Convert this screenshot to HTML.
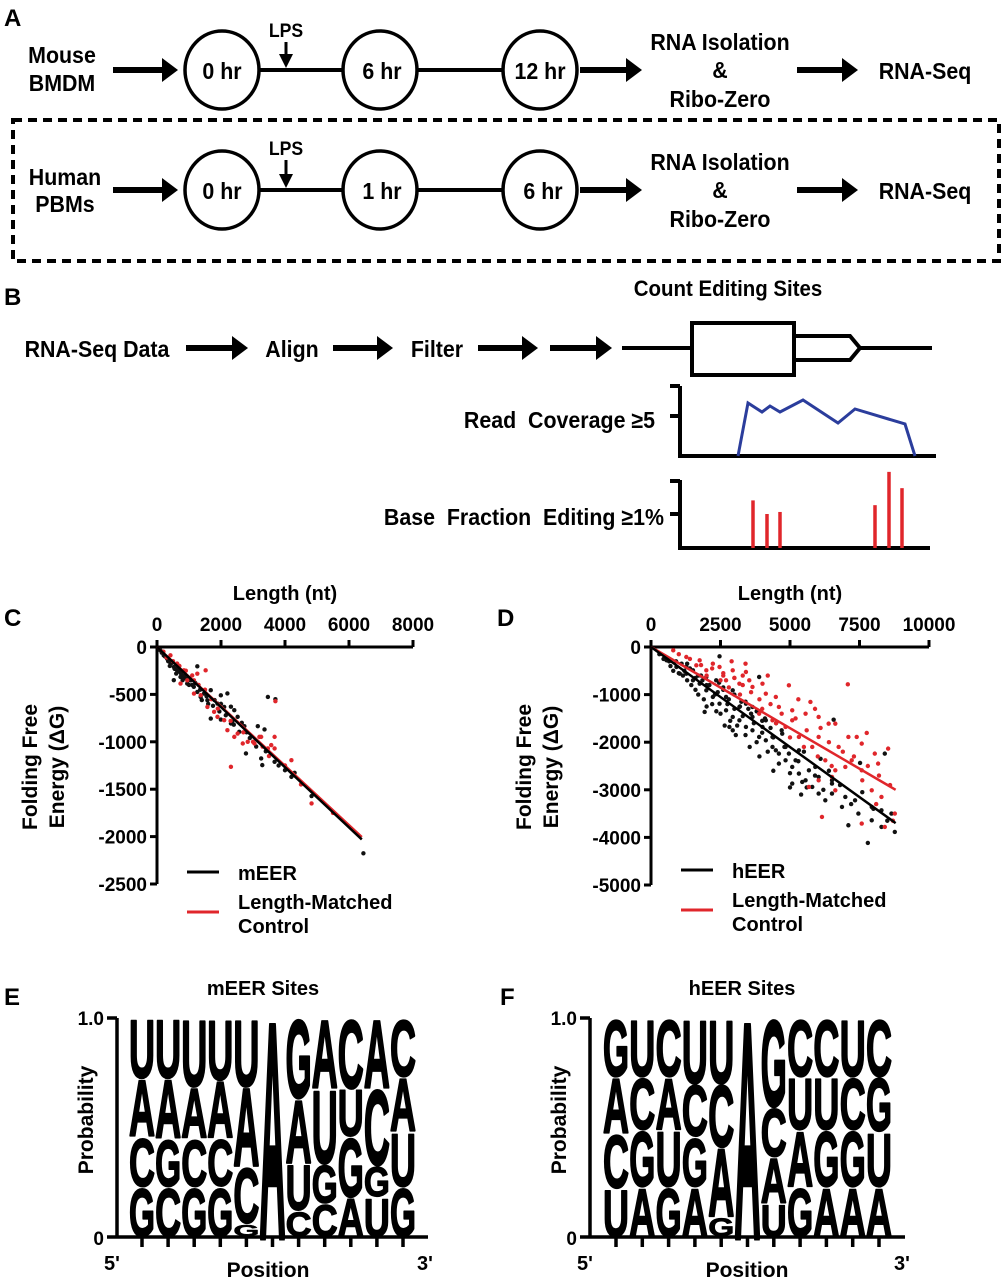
<!DOCTYPE html>
<html><head><meta charset="utf-8"><style>
body{margin:0;background:#fff}
svg text{font-family:"Liberation Sans",sans-serif;font-weight:bold}
</style></head><body>
<svg id="fig" width="1008" height="1280" viewBox="0 0 1008 1280" xmlns="http://www.w3.org/2000/svg">
<g>
<text x="4" y="26" font-size="24">A</text>
<text class="n" x="62" y="63" text-anchor="middle" font-size="23">Mouse</text>
<text class="n" x="62" y="91" text-anchor="middle" font-size="23">BMDM</text>
<text class="n" x="286" y="37" text-anchor="middle" font-size="19">LPS</text>
<line x1="259" y1="70" x2="505" y2="70" stroke="#000" stroke-width="4"/>
<ellipse cx="222" cy="70" rx="37" ry="39" fill="#fff" stroke="#000" stroke-width="3.5"/>
<ellipse cx="380" cy="70" rx="37" ry="39" fill="#fff" stroke="#000" stroke-width="3.5"/>
<ellipse cx="540" cy="70" rx="37" ry="39" fill="#fff" stroke="#000" stroke-width="3.5"/>
<text class="n" x="222" y="79" text-anchor="middle" font-size="23">0 hr</text>
<text class="n" x="382" y="79" text-anchor="middle" font-size="23">6 hr</text>
<text class="n" x="540" y="79" text-anchor="middle" font-size="23">12 hr</text>
<text class="n" x="720" y="50" text-anchor="middle" font-size="23">RNA Isolation</text>
<text class="n" x="720" y="78" text-anchor="middle" font-size="23">&amp;</text>
<text class="n" x="720" y="107" text-anchor="middle" font-size="23">Ribo-Zero</text>
<text class="n" x="925" y="79" text-anchor="middle" font-size="23">RNA-Seq</text>

<rect x="13" y="120" width="986" height="141" fill="none" stroke="#000" stroke-width="4" stroke-dasharray="9,6"/>
<text class="n" x="65" y="185" text-anchor="middle" font-size="23">Human</text>
<text class="n" x="65" y="212" text-anchor="middle" font-size="23">PBMs</text>
<text class="n" x="286" y="155" text-anchor="middle" font-size="19">LPS</text>
<line x1="259" y1="190" x2="505" y2="190" stroke="#000" stroke-width="4"/>
<ellipse cx="222" cy="190" rx="37" ry="39" fill="#fff" stroke="#000" stroke-width="3.5"/>
<ellipse cx="380" cy="190" rx="37" ry="39" fill="#fff" stroke="#000" stroke-width="3.5"/>
<ellipse cx="540" cy="190" rx="37" ry="39" fill="#fff" stroke="#000" stroke-width="3.5"/>
<text class="n" x="222" y="199" text-anchor="middle" font-size="23">0 hr</text>
<text class="n" x="382" y="199" text-anchor="middle" font-size="23">1 hr</text>
<text class="n" x="543" y="199" text-anchor="middle" font-size="23">6 hr</text>
<text class="n" x="720" y="170" text-anchor="middle" font-size="23">RNA Isolation</text>
<text class="n" x="720" y="198" text-anchor="middle" font-size="23">&amp;</text>
<text class="n" x="720" y="227" text-anchor="middle" font-size="23">Ribo-Zero</text>
<text class="n" x="925" y="199" text-anchor="middle" font-size="23">RNA-Seq</text>
</g>
<g id="arrows"></g>

<g>
<text x="4" y="305" font-size="24">B</text>
<text class="n" x="728" y="296" text-anchor="middle" font-size="22">Count Editing Sites</text>
<text class="n" x="97" y="357" text-anchor="middle" font-size="23">RNA-Seq Data</text>
<text class="n" x="292" y="357" text-anchor="middle" font-size="23">Align</text>
<text class="n" x="437" y="357" text-anchor="middle" font-size="23">Filter</text>
<line x1="622" y1="348" x2="932" y2="348" stroke="#000" stroke-width="4"/>
<rect x="692" y="323" width="102" height="52" fill="#fff" stroke="#000" stroke-width="4"/>
<polygon points="794,336 850,336 860,348 850,360 794,360" fill="#fff" stroke="#000" stroke-width="4"/>
<text class="n" x="655" y="428" text-anchor="end" font-size="23">Read&#160; Coverage ≥5</text>
<polyline points="680,386 680,456 936,456" fill="none" stroke="#000" stroke-width="4"/>
<line x1="670" y1="386" x2="680" y2="386" stroke="#000" stroke-width="4"/>
<line x1="670" y1="416" x2="680" y2="416" stroke="#000" stroke-width="4"/>
<polyline points="738,456 748,403 762,412 770,406 780,412 803,400 838,423 855,409 905,424 915,456" fill="none" stroke="#2b3d9c" stroke-width="3"/>
<text class="n" x="664" y="525" text-anchor="end" font-size="23">Base&#160; Fraction&#160; Editing ≥1%</text>
<polyline points="680,480 680,548 930,548" fill="none" stroke="#000" stroke-width="4"/>
<line x1="670" y1="481" x2="680" y2="481" stroke="#000" stroke-width="4"/>
<line x1="670" y1="514" x2="680" y2="514" stroke="#000" stroke-width="4"/>
<g id="editbars"></g>
</g>

<g id="chartC"></g>
<g id="chartD"></g>
<g id="logoE"></g>
<g id="logoF"></g>
</svg>
<script>
const NS="http://www.w3.org/2000/svg";
function mk(parent,tag,attrs,txt){const e=document.createElementNS(NS,tag);for(const k in attrs)e.setAttribute(k,attrs[k]);if(txt!==undefined)e.textContent=txt;parent.appendChild(e);return e;}

document.querySelectorAll('text.n').forEach(t=>{
  const x=+t.getAttribute('x'),y=+t.getAttribute('y');
  t.setAttribute('x',0);t.setAttribute('y',0);
  t.setAttribute('transform',`translate(${x},${y}) scale(0.93,1)`);
});

const arrowSpecs=[[113,178,70],[580,642,70],[797,858,70],[113,178,190],[580,642,190],[797,858,190],[186,248,348],[333,393,348],[478,538,348],[550,612,348]];
const ag=document.getElementById('arrows');
arrowSpecs.forEach((a,i)=>{
  const g=mk(ag,'g',{});
  
  
  mk(g,'line',{x1:a[0],y1:a[2],x2:a[1]-12,y2:a[2],stroke:'#000','stroke-width':6});
  mk(g,'polygon',{points:`${a[1]-16},${a[2]-12} ${a[1]},${a[2]} ${a[1]-16},${a[2]+12}`,fill:'#000'});
});
[[286,42,68],[286,160,188]].forEach(a=>{
  const g=mk(ag,'g',{});
  
  
  mk(g,'line',{x1:a[0],y1:a[1],x2:a[0],y2:a[2]-10,stroke:'#000','stroke-width':3});
  mk(g,'polygon',{points:`${a[0]-7},${a[2]-14} ${a[0]},${a[2]} ${a[0]+7},${a[2]-14}`,fill:'#000'});
});

const editPos=[753,767,780,875,889,902];
const editVal=[0.70,0.50,0.53,0.63,1.12,0.88];
const eb=document.getElementById('editbars');
editVal.forEach((v,i)=>{
  const l=mk(eb,'line',{x1:editPos[i],x2:editPos[i],y1:548,y2:548-v*68,stroke:'#e0262b','stroke-width':3.5});
  
  
});

// ===== Chart C data =====
const cXTicks=[0,2000,4000,6000,8000];
const cYTicks=[0,-500,-1000,-1500,-2000,-2500];
const cBlackX=[3465,3700,2730,3150,3360,2780,3255,3290,3675,4300,4200,4830,6450,525,1260,1680,1995,2200,2310,2415,2520,2570,2310,1995,1680,1365,1260,945,735,525,368,210,105,315,630,840,1050,1470,1575,1890,2100,420,560,700,900,1100,150,250,350,450,550,650,750,850,950,1150,1350,1550,1750,1950,2150,2350,2650,2900,3100,400,600,800,1000,1200,1400,1600,1800,2000,2400,2800,3400,3800,4000];
const cBlackY=[-527,-551,-835,-835,-870,-1123,-1176,-1246,-1211,-1327,-1370,-1572,-2176,-350,-204,-456,-510,-490,-630,-667,-737,-895,-807,-765,-755,-527,-474,-386,-316,-210,-140,-88,-35,-123,-246,-316,-351,-491,-562,-597,-632,-170,-230,-260,-330,-400,-60,-100,-150,-170,-230,-220,-280,-300,-330,-420,-450,-520,-620,-680,-720,-790,-800,-960,-1050,-200,-280,-350,-400,-380,-560,-600,-560,-600,-820,-900,-1100,-1250,-1300];
const cRedX=[3700,1520,2310,4200,4830,3675,3675,3570,3200,2835,2680,3045,2520,2415,2200,2100,1890,1785,1575,1365,1155,945,840,630,420,735,1155,1260,3465,3255,200,300,500,700,900,1100,1300,1500,1700,1900,2300,2700,3000,3300,3500,4000,4500,5500];
const cRedY=[-572,-246,-1264,-1194,-1650,-948,-1070,-1035,-948,-1000,-1018,-1018,-913,-948,-878,-772,-737,-684,-632,-509,-491,-351,-246,-175,-88,-386,-351,-281,-1070,-948,-50,-110,-150,-200,-250,-300,-400,-450,-550,-650,-780,-900,-1000,-1050,-1150,-1250,-1450,-1750];
const cFit={black:[0,0,6400,-2030],red:[0,0,6400,-2005]};

// ===== Chart D data =====
const dXTicks=[0,2500,5000,7500,10000];
const dYTicks=[0,-1000,-2000,-3000,-4000,-5000];
const dBlackX=[560,915,1270,1510,1750,1990,2225,2465,2700,2940,3180,3415,3650,3890,4130,4370,4600,4840,5080,5320,5560,5800,6030,6270,6510,6990,7460,7940,8290,8770,7800,7100,6570,3890,2465,5080,5440,4960,4490,2940,2820,1930,2345,2940,3415,3650,4130,4720,5320,5910,6510,7340,8290,8410,7520,1510,1990,1270,1035,2700,3180,3650,4010,4370,4840,5200,5680,6030,6510,6870,7940,8650,1200,1600,2000,2400,2800,3200,3600,4000,1100,1800,2600,3000,3400,3800,4300,4500,700,900,1000,1300,1400,1600,1700,1900,2100,2200,2300,2500,2600,2750,2850,3000,3100,3300,3400,3500,3700,3800,4000,4200,4400,4600,4800,5000,5300,5600,5900,6200,6400,6800,7200,7600,8000,8500,300,450,650,800,1150,1450,1700,2000,2350,2650,3050,3550,3250,2450,1850,1300,4100,4700,5500,6100,3900,4400,5000,5400];
const dBlackY=[-280,-420,-560,-700,-770,-910,-1050,-1190,-1330,-1470,-1540,-1680,-1750,-1890,-1960,-2100,-2240,-2380,-2520,-2660,-2800,-2940,-3080,-3220,-2800,-3150,-3500,-3640,-3780,-3885,-4116,-3745,-1526,-630,-196,-2870,-2835,-2240,-2170,-1750,-1680,-1365,-700,-910,-1190,-1260,-1540,-1820,-2170,-2520,-2870,-3220,-3430,-2240,-2436,-490,-630,-420,-560,-1050,-1260,-1470,-1680,-1890,-2100,-2380,-2590,-2730,-3080,-3360,-3360,-3500,-500,-650,-800,-950,-1100,-1250,-1400,-1550,-350,-600,-850,-1000,-1150,-1350,-1700,-1600,-400,-300,-550,-700,-450,-900,-600,-1100,-800,-1200,-1000,-1400,-900,-1200,-1550,-1300,-1650,-1450,-1850,-1300,-1600,-2000,-1800,-2200,-1900,-2450,-2100,-2650,-2400,-2950,-2700,-3000,-2600,-2900,-3300,-3050,-3400,-3650,-150,-250,-300,-500,-600,-800,-1000,-1250,-1350,-1650,-1850,-2100,-1150,-750,-700,-350,-1500,-1750,-2200,-2350,-2300,-2600,-2950,-3100];
const dRedX=[800,1270,1750,2225,2465,2940,3415,2700,3180,3650,4130,4490,4960,7080,5735,5080,5560,6030,6390,6630,7100,7400,7760,7580,8050,8530,8170,7580,7220,6630,6270,5800,5320,4840,4370,3890,6150,6630,7580,8290,8770,8410,7940,5680,6030,6510,6990,3535,4010,4600,5080,6030,6750,1990,1630,2000,2600,3000,3300,1000,1400,1800,2200,2600,3000,3300,3600,3900,4300,4700,5200,5600,6100,6400,6900,7300,7800,8200,8600,2500,2800,3200,4000,4500,5000,5500,6000,6500,3400,2900,4200,5300,5900,7600,8100,8700];
const dRedY=[-70,-210,-280,-350,-420,-490,-525,-700,-770,-840,-980,-1050,-805,-784,-1155,-1330,-1400,-1470,-1610,-1610,-1890,-1890,-1806,-2030,-2240,-2135,-2450,-2590,-2380,-2590,-2380,-2100,-1890,-1680,-1540,-1400,-3570,-3010,-3710,-3150,-3500,-3780,-3010,-2940,-2800,-2730,-2520,-700,-770,-1260,-1540,-1890,-2100,-490,-385,-600,-600,-650,-800,-150,-250,-380,-450,-550,-650,-600,-950,-1100,-1200,-1400,-1500,-1750,-1700,-2000,-2200,-2300,-2500,-2700,-2900,-700,-850,-1000,-1300,-1600,-1900,-2100,-2300,-2500,-350,-300,-600,-1100,-1300,-2800,-3300,-3650];
const dFit={black:[0,0,8800,-3700],red:[0,0,8800,-3000]};

function scatter(id,o){
  const g=document.getElementById(id);
  mk(g,'text',{x:o.lx,y:626,'font-size':24},o.letter);
  const sx=v=>o.x0+(v-o.xmin)/(o.xmax-o.xmin)*(o.x1-o.x0);
  const sy=v=>o.y0+(v-0)/(o.ymin-0)*(o.y1-o.y0);
  const xt=mk(g,'text',{x:(o.x0+o.x1)/2,y:600,'text-anchor':'middle','font-size':20},'Length (nt)');
  
  
  const yt=mk(g,'text',{transform:`translate(${o.x0-120},767) rotate(-90)`,'text-anchor':'middle','font-size':21},'Folding Free');
  
  
  const yt2=mk(g,'text',{transform:`translate(${o.x0-93},767) rotate(-90)`,'text-anchor':'middle','font-size':21},'Energy (ΔG)');
  
  
  const ax=mk(g,'path',{d:`M${o.x0},${o.y0} H${o.x1} M${o.x0},${o.y0} V${o.y1}`,stroke:'#000','stroke-width':3,fill:'none'});
  
  
  o.xt.forEach(v=>{
    mk(g,'line',{x1:sx(v),x2:sx(v),y1:o.y0,y2:o.y0-7,stroke:'#000','stroke-width':3});
    const t=mk(g,'text',{x:sx(v),y:o.y0-16,'text-anchor':'middle','font-size':19},String(v));
    
    
  });
  o.yt.forEach(v=>{
    mk(g,'line',{x1:o.x0,x2:o.x0-7,y1:sy(v),y2:sy(v),stroke:'#000','stroke-width':3});
    const t=mk(g,'text',{x:o.x0-10,y:sy(v)+7,'text-anchor':'end','font-size':19},String(v));
    
    
  });
  o.bx.forEach((v,i)=>{
    const c=mk(g,'circle',{cx:sx(v),cy:sy(o.by[i]),r:2.2,fill:'#111'});
    
    
  });
  o.rx.forEach((v,i)=>{
    const c=mk(g,'circle',{cx:sx(v),cy:sy(o.ry[i]),r:2.2,fill:'#e0262b'});
    
    
  });
  const fb=o.fit.black, fr=o.fit.red;
  const l1=mk(g,'line',{x1:sx(fr[0]),y1:sy(fr[1]),x2:sx(fr[2]),y2:sy(fr[3]),stroke:'#e0262b','stroke-width':2.5});
  
  
  const l2=mk(g,'line',{x1:sx(fb[0]),y1:sy(fb[1]),x2:sx(fb[2]),y2:sy(fb[3]),stroke:'#000','stroke-width':2.5});
  
  
  const lx=o.x0+30;
  const lg1=mk(g,'line',{x1:lx,x2:lx+32,y1:o.legY,y2:o.legY,stroke:'#000','stroke-width':3});
  
  
  const t1=mk(g,'text',{x:lx+51,y:o.legY+8,'font-size':20},o.name);
  
  
  const lg2=mk(g,'line',{x1:lx,x2:lx+32,y1:o.legY+40,y2:o.legY+40,stroke:'#e0262b','stroke-width':3});
  
  
  const t2=mk(g,'text',{x:lx+51,y:o.legY+37,'font-size':20},'Length-Matched');
  
  
  const t3=mk(g,'text',{x:lx+51,y:o.legY+61,'font-size':20},'Control');
  
  
}
scatter('chartC',{letter:'C',lx:4,x0:157,x1:413,xmin:0,xmax:8000,y0:647,y1:884,ymin:-2500,xt:cXTicks,yt:cYTicks,bx:cBlackX,by:cBlackY,rx:cRedX,ry:cRedY,fit:cFit,name:'mEER',legY:872});
scatter('chartD',{letter:'D',lx:497,x0:651,x1:929,xmin:0,xmax:10000,y0:647,y1:885,ymin:-5000,xt:dXTicks,yt:dYTicks,bx:dBlackX,by:dBlackY,rx:dRedX,ry:dRedY,fit:dFit,name:'hEER',legY:870});

// ===== Logos =====
const eLetters=[["U","A","C","G"],["U","A","G","C"],["U","A","C","G"],["U","A","C","G"],["U","A","C","G"],["A"],["G","A","U","C"],["A","U","G","C"],["C","U","G","A"],["A","C","G","U"],["C","A","U","G"]];
const eProbs=[[.275,.267,.229,.229],[.275,.275,.221,.229],[.313,.237,.221,.229],[.282,.267,.221,.229],[.313,.366,.260,.061],[1],[.366,.298,.214,.122],[.321,.344,.183,.153],[.321,.221,.275,.183],[.321,.351,.145,.183],[.267,.252,.252,.229]];
const fLetters=[["G","A","C","U"],["U","C","G","A"],["C","A","U","G"],["U","C","G","A"],["U","C","A","G"],["A"],["G","C","A","U"],["C","U","A","G"],["C","U","G","A"],["U","C","G","A"],["C","G","U","A"]];
const fProbs=[[.267,.260,.252,.221],[.267,.244,.260,.229],[.267,.244,.260,.229],[.298,.244,.229,.229],[.298,.290,.321,.092],[1],[.405,.229,.214,.153],[.267,.244,.260,.229],[.267,.244,.260,.229],[.267,.244,.260,.229],[.267,.252,.252,.229]];

function logo(id,o){
  const g=document.getElementById(id);
  mk(g,'text',{x:o.lx,y:1005,'font-size':24},o.letter);
  const ti=mk(g,'text',{x:o.cx,y:995,'text-anchor':'middle','font-size':20},o.title);
  
  
  const top=1018,bot=1237,H=bot-top;
  const yl=mk(g,'text',{transform:`translate(${o.ax-24},1120) rotate(-90)`,'text-anchor':'middle','font-size':21},'Probability');
  
  
  const t1=mk(g,'text',{x:o.ax-13,y:top+7,'text-anchor':'end','font-size':19},'1.0');
  
  
  const t0=mk(g,'text',{x:o.ax-13,y:bot+8,'text-anchor':'end','font-size':19},'0');
  
  
  o.L.forEach((col,i)=>{
    const x=o.t0+i*o.dx;
    let y=top;
    col.forEach((ch,j)=>{
      const h=o.P[i][j]*H;
      const t=mk(g,'text',{transform:`translate(${x-13},${y+h-1}) scale(1,${(h-2)/71.6})`,'font-size':100,textLength:26,lengthAdjust:'spacingAndGlyphs',stroke:'#000','stroke-width':3,'stroke-linejoin':'round'},ch);
      
      
      y+=h;
    });
    mk(g,'line',{x1:x,x2:x,y1:bot,y2:bot+10,stroke:'#000','stroke-width':3.5});
  });
  const ax=mk(g,'path',{d:`M${o.ax},${top} V${bot} M${o.ax-10},${bot} H${o.xe} M${o.ax-10},${top} H${o.ax}`,stroke:'#000','stroke-width':3.5,fill:'none'});
  
  
  const a=mk(g,'text',{x:o.ax-5,y:1270,'text-anchor':'middle','font-size':20},"5'");
  
  
  const b=mk(g,'text',{x:o.xe-3,y:1270,'text-anchor':'middle','font-size':20},"3'");
  
  
  const p=mk(g,'text',{x:o.cx+5,y:1277,'text-anchor':'middle','font-size':21},'Position');
  
  
}
logo('logoE',{letter:'E',lx:4,cx:263,title:'mEER Sites',ax:117,xe:428,t0:142,dx:26.1,L:eLetters,P:eProbs});
logo('logoF',{letter:'F',lx:500,cx:742,title:'hEER Sites',ax:590,xe:905,t0:616,dx:26.3,L:fLetters,P:fProbs});
</script>
</body></html>
